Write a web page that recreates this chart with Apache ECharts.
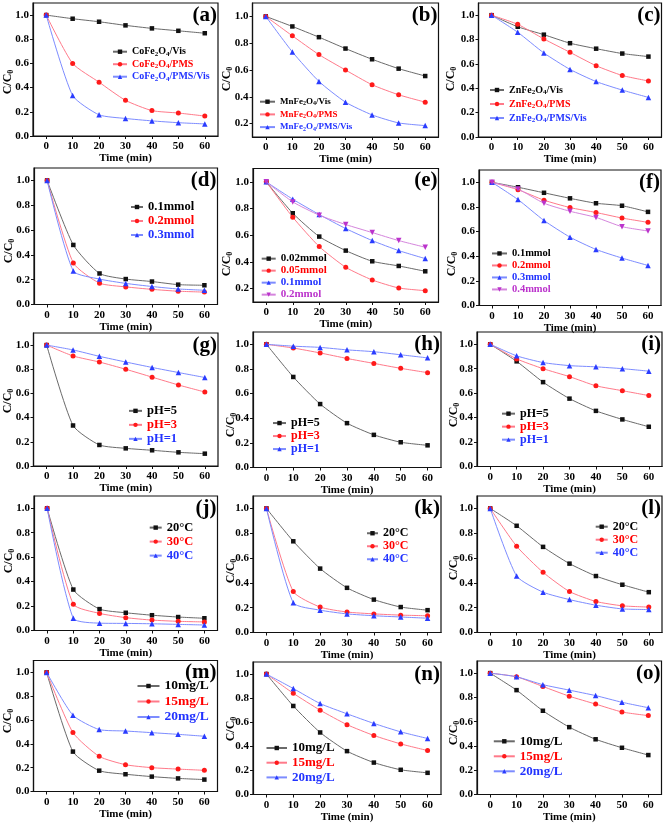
<!DOCTYPE html>
<html><head><meta charset="utf-8">
<script src="https://cdn.jsdelivr.net/npm/echarts@6/dist/echarts.min.js"></script>
<style>html,body{margin:0;padding:0;background:#fff}#c{width:666px;height:825px}</style>
</head><body><div id="c"></div>
<script>
const FONT = '"Liberation Serif","Times New Roman",serif';

// ---------- data ----------
const time = [0, 10, 20, 30, 40, 50, 60];
const xTickLabels = [0, 10, 20, 30, 40, 50, 60];
const yTickLabels0 = [0, 0.2, 0.4, 0.6, 0.8, 1.0];
const yTickLabels1 = [0.2, 0.4, 0.6, 0.8, 1.0];

// (a)
const a_labels = ['CoFe{s|2}O{s|4}/Vis', 'CoFe{s|2}O{s|4}/PMS', 'CoFe{s|2}O{s|4}/PMS/Vis'];
const a_vis = [1.0, 0.97, 0.945, 0.915, 0.89, 0.87, 0.85];
const a_pms = [1.0, 0.60, 0.445, 0.295, 0.21, 0.19, 0.165];
const a_pmsvis = [1.0, 0.335, 0.175, 0.145, 0.125, 0.11, 0.10];
// (b)
const b_labels = ['MnFe{s|2}O{s|4}/Vis', 'MnFe{s|2}O{s|4}/PMS', 'MnFe{s|2}O{s|4}/PMS/Vis'];
const b_vis = [1.0, 0.925, 0.845, 0.76, 0.68, 0.61, 0.555];
const b_pms = [1.0, 0.855, 0.715, 0.60, 0.49, 0.415, 0.36];
const b_pmsvis = [1.0, 0.735, 0.515, 0.36, 0.265, 0.205, 0.185];
// (c)
const c_labels = ['ZnFe{s|2}O{s|4}/Vis', 'ZnFe{s|2}O{s|4}/PMS', 'ZnFe{s|2}O{s|4}/PMS/Vis'];
const c_vis = [1.0, 0.905, 0.84, 0.77, 0.725, 0.685, 0.66];
const c_pms = [1.0, 0.925, 0.805, 0.695, 0.585, 0.505, 0.46];
const c_pmsvis = [1.0, 0.86, 0.69, 0.555, 0.455, 0.385, 0.325];
// (d)
const d_labels = ['0.1mmol', '0.2mmol', '0.3mmol'];
const d_01 = [1.0, 0.48, 0.25, 0.205, 0.185, 0.16, 0.155];
const d_02 = [1.0, 0.335, 0.172, 0.142, 0.122, 0.107, 0.10];
const d_03 = [1.0, 0.27, 0.205, 0.17, 0.145, 0.125, 0.115];
// (e)
const e_labels = ['0.02mmol', '0.05mmol', '0.1mmol', '0.2mmol'];
const e_002 = [1.0, 0.765, 0.59, 0.485, 0.405, 0.37, 0.33];
const e_005 = [1.0, 0.735, 0.515, 0.36, 0.265, 0.205, 0.185];
const e_01 = [1.0, 0.87, 0.755, 0.65, 0.56, 0.485, 0.425];
const e_02 = [1.0, 0.85, 0.75, 0.68, 0.62, 0.56, 0.51];
// (f)
const f_labels = ['0.1mmol', '0.2mmol', '0.3mmol', '0.4mmol'];
const f_01 = [1.0, 0.96, 0.915, 0.87, 0.83, 0.81, 0.76];
const f_02 = [1.0, 0.94, 0.855, 0.795, 0.755, 0.71, 0.675];
const f_03 = [1.0, 0.86, 0.69, 0.555, 0.455, 0.385, 0.325];
const f_04 = [1.0, 0.945, 0.83, 0.765, 0.715, 0.64, 0.605];
// (g)
const g_labels = ['pH=5', 'pH=3', 'pH=1'];
const g_5 = [1.0, 0.335, 0.174, 0.146, 0.13, 0.113, 0.102];
const g_3 = [1.0, 0.91, 0.86, 0.80, 0.735, 0.67, 0.612];
const g_1 = [1.0, 0.96, 0.907, 0.86, 0.815, 0.773, 0.732];
// (h)
const h_labels = ['pH=5', 'pH=3', 'pH=1'];
const h_5 = [1.0, 0.735, 0.515, 0.36, 0.265, 0.205, 0.18];
const h_3 = [1.0, 0.97, 0.93, 0.885, 0.845, 0.805, 0.77];
const h_1 = [1.0, 0.985, 0.975, 0.955, 0.94, 0.915, 0.89];
// (i)
const i_labels = ['pH=5', 'pH=3', 'pH=1'];
const i_5 = [1.0, 0.86, 0.69, 0.555, 0.455, 0.385, 0.325];
const i_3 = [1.0, 0.88, 0.80, 0.735, 0.66, 0.62, 0.58];
const i_1 = [1.0, 0.905, 0.85, 0.825, 0.815, 0.80, 0.78];
// (j)
const j_labels = ['20\u00b0C', '30\u00b0C', '40\u00b0C'];
const j_20 = [1.0, 0.335, 0.175, 0.145, 0.125, 0.11, 0.10];
const j_30 = [1.0, 0.215, 0.14, 0.105, 0.085, 0.075, 0.07];
const j_40 = [1.0, 0.10, 0.06, 0.058, 0.055, 0.05, 0.045];
// (k)
const k_labels = ['20\u00b0C', '30\u00b0C', '40\u00b0C'];
const k_20 = [1.0, 0.735, 0.515, 0.36, 0.265, 0.205, 0.18];
const k_30 = [1.0, 0.33, 0.205, 0.165, 0.15, 0.14, 0.135];
const k_40 = [1.0, 0.24, 0.18, 0.15, 0.135, 0.125, 0.115];
// (l)
const l_labels = ['20\u00b0C', '30\u00b0C', '40\u00b0C'];
const l_20 = [1.0, 0.86, 0.69, 0.555, 0.455, 0.385, 0.325];
const l_30 = [1.0, 0.695, 0.485, 0.33, 0.25, 0.215, 0.205];
const l_40 = [1.0, 0.455, 0.325, 0.265, 0.22, 0.19, 0.185];
// (m)
const m_labels = ['10mg/L', '15mg/L', '20mg/L'];
const m_10 = [1.0, 0.335, 0.175, 0.145, 0.125, 0.11, 0.10];
const m_15 = [1.0, 0.495, 0.295, 0.225, 0.20, 0.188, 0.178];
const m_20 = [1.0, 0.64, 0.52, 0.508, 0.494, 0.48, 0.464];
// (n)
const n_labels = ['10mg/L', '15mg/L', '20mg/L'];
const n_10 = [1.0, 0.735, 0.515, 0.36, 0.265, 0.205, 0.18];
const n_15 = [1.0, 0.84, 0.70, 0.58, 0.49, 0.42, 0.365];
const n_20 = [1.0, 0.88, 0.755, 0.67, 0.59, 0.52, 0.465];
// (o)
const o_labels = ['10mg/L', '15mg/L', '20mg/L'];
const o_10 = [1.0, 0.86, 0.69, 0.555, 0.455, 0.385, 0.325];
const o_15 = [1.0, 0.97, 0.89, 0.81, 0.745, 0.68, 0.65];
const o_20 = [1.0, 0.97, 0.905, 0.86, 0.815, 0.76, 0.715];

// ---------- assembly ----------
const panels = [
  {id:'a', labels:a_labels, data:[a_vis,a_pms,a_pmsvis], kinds:['k','r','b']},
  {id:'b', labels:b_labels, data:[b_vis,b_pms,b_pmsvis], kinds:['k','r','b']},
  {id:'c', labels:c_labels, data:[c_vis,c_pms,c_pmsvis], kinds:['k','r','b']},
  {id:'d', labels:d_labels, data:[d_01,d_02,d_03], kinds:['k','r','b']},
  {id:'e', labels:e_labels, data:[e_002,e_005,e_01,e_02], kinds:['k','r','b','p']},
  {id:'f', labels:f_labels, data:[f_01,f_02,f_03,f_04], kinds:['k','r','b','p']},
  {id:'g', labels:g_labels, data:[g_5,g_3,g_1], kinds:['k','r','b']},
  {id:'h', labels:h_labels, data:[h_5,h_3,h_1], kinds:['k','r','b']},
  {id:'i', labels:i_labels, data:[i_5,i_3,i_1], kinds:['k','r','b']},
  {id:'j', labels:j_labels, data:[j_20,j_30,j_40], kinds:['k','r','b']},
  {id:'k', labels:k_labels, data:[k_20,k_30,k_40], kinds:['k','r','b']},
  {id:'l', labels:l_labels, data:[l_20,l_30,l_40], kinds:['k','r','b']},
  {id:'m', labels:m_labels, data:[m_10,m_15,m_20], kinds:['k','r','b']},
  {id:'n', labels:n_labels, data:[n_10,n_15,n_20], kinds:['k','r','b']},
  {id:'o', labels:o_labels, data:[o_10,o_15,o_20], kinds:['k','r','b']}
];

// layout: g=[left, top, right, bottom] of the frame; lg=[left, first item centre y, spacing, fontSize, itemWidth]; yn=[x,y] of y title centre
const layout = {
  a:{g:[33,3,218,136], ymin:0, lg:[112,51.7,12.5,10,14], yn:[8,82]},
  b:{g:[252.5,3,438.5,137], ymin:0.1, lg:[259,101.7,12.7,9,15], yn:[227,79]},
  c:{g:[478.5,3,661.5,137], ymin:0, lg:[489,90,14,10,14], yn:[451,79]},
  d:{g:[34,168,217.5,304.5], ymin:0, lg:[130,207,14,12.5,12], yn:[9,251]},
  e:{g:[253,168.5,438.5,302], ymin:0.1, lg:[260.7,258.3,11.3,11,14], yn:[227,264]},
  f:{g:[479,170,661,305.5], ymin:0, lg:[491,253.3,11.7,10.5,15], yn:[452,264]},
  g:{g:[33.5,333,218,466], ymin:0, lg:[128,409,10.3,12.5,13], yn:[8,401]},
  h:{g:[253,332,441,467.5], ymin:0, lg:[272,422.3,11.5,12,13], yn:[231,425]},
  i:{g:[477,332,662,466.5], ymin:0, lg:[501,413,11.7,12,13], yn:[454,415]},
  j:{g:[34,496,217.5,630.5], ymin:0, lg:[148.7,527.3,13.4,12.5,12], yn:[9,561]},
  k:{g:[253,496,441,632.5], ymin:0, lg:[366,533,12.5,12,11], yn:[231,571]},
  l:{g:[477,496,662,632.5], ymin:0, lg:[594.7,526.3,12.2,12,12], yn:[454,568]},
  m:{g:[33.5,660.5,217.5,791.5], ymin:0, lg:[136.5,686,15.5,13.5,22], yn:[8,721]},
  n:{g:[253,662,441,794.5], ymin:0, lg:[265.5,748,14.7,13,20.5], yn:[231,729]},
  o:{g:[477,661,661.5,794.5], ymin:0, lg:[492.8,741.3,15,13,21], yn:[454,733]}
};

const STY = {
  k:{symbol:'rect', size:4.5, rot:0, color:'#111111', line:'#6a6a6a', text:'#000000'},
  r:{symbol:'circle', size:5, rot:0, color:'#ff1a1a', line:'#ff7a8a', text:'#ff0000'},
  b:{symbol:'triangle', size:5.5, rot:0, color:'#2a3cff', line:'#7d8cff', text:'#2233ff'},
  p:{symbol:'triangle', size:5.5, rot:180, color:'#bb33cc', line:'#d585dd', text:'#bb33cc'}
};

const grids=[], xAxes=[], yAxes=[], series=[], legends=[], titles=[], graphics=[];
const nameMap = {};

function yFmt(v){ const k = Math.round(v*10); return (k % 2 === 0 && k <= 10) ? (k/10).toFixed(1) : ''; }
function xFmt(v){ return (v >= 0 && v <= 60 && v % 10 === 0) ? String(v) : ''; }

panels.forEach((p, i) => {
  const L = layout[p.id];
  const [l, t, r, b] = L.g;
  grids.push({left:l, top:t, width:r-l, height:b-t, show:true, borderColor:'#111', borderWidth:1.2, backgroundColor:'rgba(0,0,0,0)'});
  xAxes.push({
    gridIndex:i, type:'value', min:-5, max:65, interval:5,
    name:'Time (min)', nameLocation:'middle', nameGap:16,
    nameTextStyle:{fontFamily:FONT, fontWeight:'bold', fontSize:11, color:'#000'},
    axisLine:{show:true, onZero:false, lineStyle:{color:'#111', width:1.2}},
    axisTick:{show:true, inside:false, length:3, customValues:xTickLabels, lineStyle:{color:'#111', width:1}},
    axisLabel:{show:true, customValues:xTickLabels, formatter:xFmt, margin:5, fontFamily:FONT, fontWeight:'bold', fontSize:11, color:'#000'},
    splitLine:{show:false}
  });
  const yvals = L.ymin === 0 ? yTickLabels0 : yTickLabels1;
  yAxes.push({
    gridIndex:i, type:'value', min:L.ymin, max:1.1, interval:0.1,
    axisLine:{show:true, onZero:false, lineStyle:{color:'#111', width:1.2}},
    axisTick:{show:true, inside:false, length:3, customValues:yvals, lineStyle:{color:'#111', width:1}},
    axisLabel:{show:true, customValues:yvals, formatter:yFmt, margin:4, fontFamily:FONT, fontWeight:'bold', fontSize:11, color:'#000'},
    splitLine:{show:false}
  });
  const legendData = [];
  p.data.forEach((vals, k) => {
    const s = STY[p.kinds[k]];
    const nm = p.id + '#' + k;
    nameMap[nm] = p.labels[k];
    series.push({
      type:'line', name:nm, xAxisIndex:i, yAxisIndex:i,
      data: time.map((tt, j) => [tt, vals[j]]),
      symbol:s.symbol, symbolSize:s.size, symbolRotate:s.rot,
      smooth:0.2, showAllSymbol:true,
      itemStyle:{color:s.color}, lineStyle:{color:s.line, width:1},
      z: 3 + k, animation:false
    });
    legendData.push({name:nm, textStyle:{color:s.text}});
  });
  const [lx, ly, sp, fs, iw] = L.lg;
  const h = Math.min(sp - 1, fs + 1);
  legends.push({
    orient:'vertical', left:lx, top:ly - h/2, itemGap:sp - h, itemWidth:iw, itemHeight:5.5,
    padding:0, selectedMode:false, data:legendData,
    formatter: n => nameMap[n],
    textStyle:{fontFamily:FONT, fontWeight:'bold', fontSize:fs, lineHeight:h,
      rich:{s:{fontFamily:FONT, fontWeight:'bold', fontSize:Math.round(fs*0.65), lineHeight:h, verticalAlign:'bottom'}}}
  });
  titles.push({
    text:'(' + p.id + ')', right:666 - r + 1, top:t + 2, padding:0,
    textStyle:{fontFamily:FONT, fontWeight:'bold', fontSize:21, color:'#000'}
  });
  graphics.push({
    type:'text', x:L.yn[0], y:L.yn[1], rotation:Math.PI/2, silent:true,
    style:{text:'C/C{s|0}', fontFamily:FONT, fontWeight:'bold', fontSize:12, lineHeight:14, fill:'#000',
      align:'center', verticalAlign:'middle',
      rich:{s:{fontFamily:FONT, fontWeight:'bold', fontSize:8, lineHeight:14, verticalAlign:'bottom', fill:'#000'}}}
  });
});

const chart = echarts.init(document.getElementById('c'), null, {renderer:'canvas'});
chart.setOption({
  animation:false,
  backgroundColor:'#ffffff',
  title:titles, grid:grids, xAxis:xAxes, yAxis:yAxes, legend:legends, series:series,
  graphic:graphics
});
</script>
</body></html>
